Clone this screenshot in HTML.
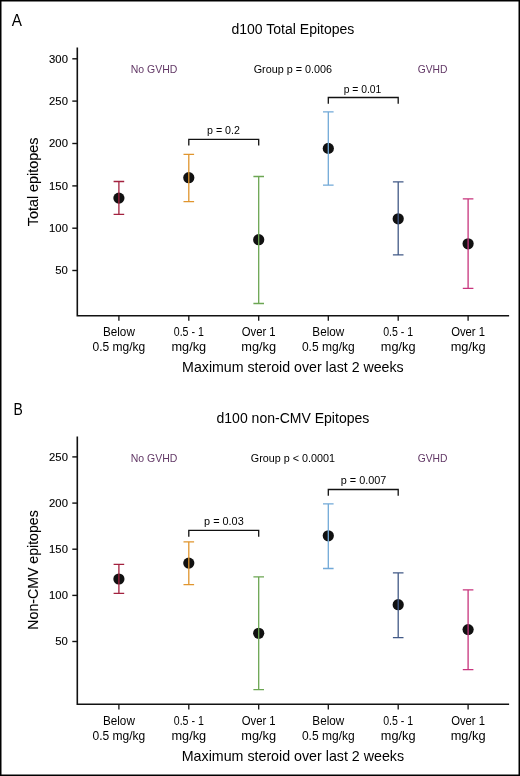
<!DOCTYPE html>
<html><head><meta charset="utf-8"><style>
html,body{margin:0;padding:0;background:#fff;}
body{width:520px;height:776px;overflow:hidden;}
svg{display:block;will-change:transform;font-family:"Liberation Sans", sans-serif;}
</style></head><body>
<svg width="520" height="776" viewBox="0 0 520 776">
<rect x="0" y="0" width="520" height="776" fill="#fff"/>
<text x="16.8" y="26.1" font-size="17" text-anchor="middle" fill="#000" stroke="#000" stroke-width="0" textLength="10.2" lengthAdjust="spacingAndGlyphs" >A</text>
<text x="292.9" y="33.8" font-size="14" text-anchor="middle" fill="#000" stroke="#000" stroke-width="0.0" textLength="123" lengthAdjust="spacingAndGlyphs" >d100 Total Epitopes</text>
<text x="154" y="72.9" font-size="11.3" text-anchor="middle" fill="#623866" stroke="#623866" stroke-width="0.0" textLength="46.6" lengthAdjust="spacingAndGlyphs" >No GVHD</text>
<text x="292.9" y="72.9" font-size="11" text-anchor="middle" fill="#000" stroke="#000" stroke-width="0.0" textLength="78.5" lengthAdjust="spacingAndGlyphs" >Group p = 0.006</text>
<text x="432.6" y="72.9" font-size="11.3" text-anchor="middle" fill="#623866" stroke="#623866" stroke-width="0.0" textLength="29.8" lengthAdjust="spacingAndGlyphs" >GVHD</text>
<text x="0" y="0" font-size="15.3" text-anchor="middle" fill="#000" stroke="#000" stroke-width="0.1" textLength="88.6" lengthAdjust="spacingAndGlyphs" transform="translate(37.9 181.9) rotate(-90)">Total epitopes</text>
<path d="M77.3 47.5 V315.8 H509.1" fill="none" stroke="#111" stroke-width="1.6"/>
<path d="M72.3 58.8 H77.3" stroke="#111" stroke-width="1.4"/>
<text x="67.9" y="62.5" font-size="11.6" text-anchor="end" fill="#000" stroke="#000" stroke-width="0.12" textLength="18.8" lengthAdjust="spacingAndGlyphs" >300</text>
<path d="M72.3 101.1 H77.3" stroke="#111" stroke-width="1.4"/>
<text x="67.9" y="104.8" font-size="11.6" text-anchor="end" fill="#000" stroke="#000" stroke-width="0.12" textLength="18.8" lengthAdjust="spacingAndGlyphs" >250</text>
<path d="M72.3 143.5 H77.3" stroke="#111" stroke-width="1.4"/>
<text x="67.9" y="147.2" font-size="11.6" text-anchor="end" fill="#000" stroke="#000" stroke-width="0.12" textLength="18.8" lengthAdjust="spacingAndGlyphs" >200</text>
<path d="M72.3 185.9 H77.3" stroke="#111" stroke-width="1.4"/>
<text x="67.9" y="189.6" font-size="11.6" text-anchor="end" fill="#000" stroke="#000" stroke-width="0.12" textLength="18.8" lengthAdjust="spacingAndGlyphs" >150</text>
<path d="M72.3 228.2 H77.3" stroke="#111" stroke-width="1.4"/>
<text x="67.9" y="231.9" font-size="11.6" text-anchor="end" fill="#000" stroke="#000" stroke-width="0.12" textLength="18.8" lengthAdjust="spacingAndGlyphs" >100</text>
<path d="M72.3 270.5 H77.3" stroke="#111" stroke-width="1.4"/>
<text x="67.9" y="274.2" font-size="11.6" text-anchor="end" fill="#000" stroke="#000" stroke-width="0.12" textLength="12.6" lengthAdjust="spacingAndGlyphs" >50</text>
<path d="M118.9 315.5 V320.7" stroke="#111" stroke-width="1.3"/>
<path d="M188.8 315.5 V320.7" stroke="#111" stroke-width="1.3"/>
<path d="M258.7 315.5 V320.7" stroke="#111" stroke-width="1.3"/>
<path d="M328.3 315.5 V320.7" stroke="#111" stroke-width="1.3"/>
<path d="M398.2 315.5 V320.7" stroke="#111" stroke-width="1.3"/>
<path d="M468.1 315.5 V320.7" stroke="#111" stroke-width="1.3"/>
<text x="118.9" y="335.7" font-size="12" text-anchor="middle" fill="#000" stroke="#000" stroke-width="0.0" textLength="31.9" lengthAdjust="spacingAndGlyphs" >Below</text>
<text x="118.9" y="350.7" font-size="12" text-anchor="middle" fill="#000" stroke="#000" stroke-width="0.0" textLength="52.8" lengthAdjust="spacingAndGlyphs" >0.5 mg/kg</text>
<text x="188.8" y="335.7" font-size="12" text-anchor="middle" fill="#000" stroke="#000" stroke-width="0.0" textLength="30.0" lengthAdjust="spacingAndGlyphs" >0.5 - 1</text>
<text x="188.8" y="350.7" font-size="12" text-anchor="middle" fill="#000" stroke="#000" stroke-width="0.0" textLength="34.7" lengthAdjust="spacingAndGlyphs" >mg/kg</text>
<text x="258.7" y="335.7" font-size="12" text-anchor="middle" fill="#000" stroke="#000" stroke-width="0.0" textLength="33.9" lengthAdjust="spacingAndGlyphs" >Over 1</text>
<text x="258.7" y="350.7" font-size="12" text-anchor="middle" fill="#000" stroke="#000" stroke-width="0.0" textLength="34.9" lengthAdjust="spacingAndGlyphs" >mg/kg</text>
<text x="328.3" y="335.7" font-size="12" text-anchor="middle" fill="#000" stroke="#000" stroke-width="0.0" textLength="31.9" lengthAdjust="spacingAndGlyphs" >Below</text>
<text x="328.3" y="350.7" font-size="12" text-anchor="middle" fill="#000" stroke="#000" stroke-width="0.0" textLength="52.8" lengthAdjust="spacingAndGlyphs" >0.5 mg/kg</text>
<text x="398.2" y="335.7" font-size="12" text-anchor="middle" fill="#000" stroke="#000" stroke-width="0.0" textLength="30.0" lengthAdjust="spacingAndGlyphs" >0.5 - 1</text>
<text x="398.2" y="350.7" font-size="12" text-anchor="middle" fill="#000" stroke="#000" stroke-width="0.0" textLength="34.7" lengthAdjust="spacingAndGlyphs" >mg/kg</text>
<text x="468.1" y="335.7" font-size="12" text-anchor="middle" fill="#000" stroke="#000" stroke-width="0.0" textLength="33.9" lengthAdjust="spacingAndGlyphs" >Over 1</text>
<text x="468.1" y="350.7" font-size="12" text-anchor="middle" fill="#000" stroke="#000" stroke-width="0.0" textLength="34.9" lengthAdjust="spacingAndGlyphs" >mg/kg</text>
<text x="292.9" y="371.7" font-size="14.5" text-anchor="middle" fill="#000" stroke="#000" stroke-width="0.0" textLength="221.6" lengthAdjust="spacingAndGlyphs" >Maximum steroid over last 2 weeks</text>
<circle cx="118.9" cy="198.1" r="5.6" fill="#111"/>
<path d="M118.9 181.5 V214.4 M113.60000000000001 181.5 H124.2 M113.60000000000001 214.4 H124.2" stroke="#a3223f" stroke-width="1.3" fill="none"/>
<circle cx="188.8" cy="177.7" r="5.6" fill="#111"/>
<path d="M188.8 154.3 V201.7 M183.5 154.3 H194.10000000000002 M183.5 201.7 H194.10000000000002" stroke="#e0952e" stroke-width="1.3" fill="none"/>
<circle cx="258.7" cy="239.7" r="5.6" fill="#111"/>
<path d="M258.7 176.5 V303.5 M253.39999999999998 176.5 H264.0 M253.39999999999998 303.5 H264.0" stroke="#6ca653" stroke-width="1.3" fill="none"/>
<circle cx="328.3" cy="148.4" r="5.6" fill="#111"/>
<path d="M328.3 111.9 V185.2 M323.0 111.9 H333.6 M323.0 185.2 H333.6" stroke="#72a9d8" stroke-width="1.3" fill="none"/>
<circle cx="398.2" cy="218.8" r="5.6" fill="#111"/>
<path d="M398.2 181.9 V254.8 M392.9 181.9 H403.5 M392.9 254.8 H403.5" stroke="#425a87" stroke-width="1.3" fill="none"/>
<circle cx="468.1" cy="243.8" r="5.6" fill="#111"/>
<path d="M468.1 198.9 V288.4 M462.8 198.9 H473.40000000000003 M462.8 288.4 H473.40000000000003" stroke="#c8357d" stroke-width="1.3" fill="none"/>
<path d="M188.8 145.4 V139.3 H258.7 V145.4" stroke="#111" stroke-width="1.3" fill="none"/>
<text x="223.5" y="134.2" font-size="11.5" text-anchor="middle" fill="#000" stroke="#000" stroke-width="0.0" textLength="32.9" lengthAdjust="spacingAndGlyphs" >p = 0.2</text>
<path d="M328.3 103.7 V97.5 H398.2 V103.7" stroke="#111" stroke-width="1.3" fill="none"/>
<text x="362.5" y="92.5" font-size="11.5" text-anchor="middle" fill="#000" stroke="#000" stroke-width="0.0" textLength="37.7" lengthAdjust="spacingAndGlyphs" >p = 0.01</text>
<text x="18.25" y="415.2" font-size="17" text-anchor="middle" fill="#000" stroke="#000" stroke-width="0" textLength="9.3" lengthAdjust="spacingAndGlyphs" >B</text>
<text x="292.9" y="422.6" font-size="14" text-anchor="middle" fill="#000" stroke="#000" stroke-width="0.0" textLength="152.8" lengthAdjust="spacingAndGlyphs" >d100 non-CMV Epitopes</text>
<text x="154" y="461.6" font-size="11.3" text-anchor="middle" fill="#623866" stroke="#623866" stroke-width="0.0" textLength="46.6" lengthAdjust="spacingAndGlyphs" >No GVHD</text>
<text x="292.9" y="461.6" font-size="11" text-anchor="middle" fill="#000" stroke="#000" stroke-width="0.0" textLength="84.2" lengthAdjust="spacingAndGlyphs" >Group p &lt; 0.0001</text>
<text x="432.6" y="461.6" font-size="11.3" text-anchor="middle" fill="#623866" stroke="#623866" stroke-width="0.0" textLength="29.8" lengthAdjust="spacingAndGlyphs" >GVHD</text>
<text x="0" y="0" font-size="15.3" text-anchor="middle" fill="#000" stroke="#000" stroke-width="0.1" textLength="119.4" lengthAdjust="spacingAndGlyphs" transform="translate(37.9 570.0) rotate(-90)">Non-CMV epitopes</text>
<path d="M77.3 436.6 V704.3 H509.1" fill="none" stroke="#111" stroke-width="1.6"/>
<path d="M72.3 456.9 H77.3" stroke="#111" stroke-width="1.4"/>
<text x="67.9" y="460.6" font-size="11.6" text-anchor="end" fill="#000" stroke="#000" stroke-width="0.12" textLength="18.8" lengthAdjust="spacingAndGlyphs" >250</text>
<path d="M72.3 503.1 H77.3" stroke="#111" stroke-width="1.4"/>
<text x="67.9" y="506.8" font-size="11.6" text-anchor="end" fill="#000" stroke="#000" stroke-width="0.12" textLength="18.8" lengthAdjust="spacingAndGlyphs" >200</text>
<path d="M72.3 549.2 H77.3" stroke="#111" stroke-width="1.4"/>
<text x="67.9" y="552.9" font-size="11.6" text-anchor="end" fill="#000" stroke="#000" stroke-width="0.12" textLength="18.8" lengthAdjust="spacingAndGlyphs" >150</text>
<path d="M72.3 595.4 H77.3" stroke="#111" stroke-width="1.4"/>
<text x="67.9" y="599.1" font-size="11.6" text-anchor="end" fill="#000" stroke="#000" stroke-width="0.12" textLength="18.8" lengthAdjust="spacingAndGlyphs" >100</text>
<path d="M72.3 641.5 H77.3" stroke="#111" stroke-width="1.4"/>
<text x="67.9" y="645.2" font-size="11.6" text-anchor="end" fill="#000" stroke="#000" stroke-width="0.12" textLength="12.6" lengthAdjust="spacingAndGlyphs" >50</text>
<path d="M118.9 704.3 V709.5" stroke="#111" stroke-width="1.3"/>
<path d="M188.8 704.3 V709.5" stroke="#111" stroke-width="1.3"/>
<path d="M258.7 704.3 V709.5" stroke="#111" stroke-width="1.3"/>
<path d="M328.3 704.3 V709.5" stroke="#111" stroke-width="1.3"/>
<path d="M398.2 704.3 V709.5" stroke="#111" stroke-width="1.3"/>
<path d="M468.1 704.3 V709.5" stroke="#111" stroke-width="1.3"/>
<text x="118.9" y="724.5" font-size="12" text-anchor="middle" fill="#000" stroke="#000" stroke-width="0.0" textLength="31.9" lengthAdjust="spacingAndGlyphs" >Below</text>
<text x="118.9" y="739.5" font-size="12" text-anchor="middle" fill="#000" stroke="#000" stroke-width="0.0" textLength="52.8" lengthAdjust="spacingAndGlyphs" >0.5 mg/kg</text>
<text x="188.8" y="724.5" font-size="12" text-anchor="middle" fill="#000" stroke="#000" stroke-width="0.0" textLength="30.0" lengthAdjust="spacingAndGlyphs" >0.5 - 1</text>
<text x="188.8" y="739.5" font-size="12" text-anchor="middle" fill="#000" stroke="#000" stroke-width="0.0" textLength="34.7" lengthAdjust="spacingAndGlyphs" >mg/kg</text>
<text x="258.7" y="724.5" font-size="12" text-anchor="middle" fill="#000" stroke="#000" stroke-width="0.0" textLength="33.9" lengthAdjust="spacingAndGlyphs" >Over 1</text>
<text x="258.7" y="739.5" font-size="12" text-anchor="middle" fill="#000" stroke="#000" stroke-width="0.0" textLength="34.9" lengthAdjust="spacingAndGlyphs" >mg/kg</text>
<text x="328.3" y="724.5" font-size="12" text-anchor="middle" fill="#000" stroke="#000" stroke-width="0.0" textLength="31.9" lengthAdjust="spacingAndGlyphs" >Below</text>
<text x="328.3" y="739.5" font-size="12" text-anchor="middle" fill="#000" stroke="#000" stroke-width="0.0" textLength="52.8" lengthAdjust="spacingAndGlyphs" >0.5 mg/kg</text>
<text x="398.2" y="724.5" font-size="12" text-anchor="middle" fill="#000" stroke="#000" stroke-width="0.0" textLength="30.0" lengthAdjust="spacingAndGlyphs" >0.5 - 1</text>
<text x="398.2" y="739.5" font-size="12" text-anchor="middle" fill="#000" stroke="#000" stroke-width="0.0" textLength="34.7" lengthAdjust="spacingAndGlyphs" >mg/kg</text>
<text x="468.1" y="724.5" font-size="12" text-anchor="middle" fill="#000" stroke="#000" stroke-width="0.0" textLength="33.9" lengthAdjust="spacingAndGlyphs" >Over 1</text>
<text x="468.1" y="739.5" font-size="12" text-anchor="middle" fill="#000" stroke="#000" stroke-width="0.0" textLength="34.9" lengthAdjust="spacingAndGlyphs" >mg/kg</text>
<text x="292.9" y="760.8" font-size="14.5" text-anchor="middle" fill="#000" stroke="#000" stroke-width="0.0" textLength="222.3" lengthAdjust="spacingAndGlyphs" >Maximum steroid over last 2 weeks</text>
<circle cx="118.9" cy="579.0" r="5.6" fill="#111"/>
<path d="M118.9 564.4 V593.3 M113.60000000000001 564.4 H124.2 M113.60000000000001 593.3 H124.2" stroke="#a3223f" stroke-width="1.3" fill="none"/>
<circle cx="188.8" cy="563.1" r="5.6" fill="#111"/>
<path d="M188.8 541.9 V584.7 M183.5 541.9 H194.10000000000002 M183.5 584.7 H194.10000000000002" stroke="#e0952e" stroke-width="1.3" fill="none"/>
<circle cx="258.7" cy="633.3" r="5.6" fill="#111"/>
<path d="M258.7 576.9 V689.6 M253.39999999999998 576.9 H264.0 M253.39999999999998 689.6 H264.0" stroke="#6ca653" stroke-width="1.3" fill="none"/>
<circle cx="328.3" cy="535.8" r="5.6" fill="#111"/>
<path d="M328.3 503.9 V568.5 M323.0 503.9 H333.6 M323.0 568.5 H333.6" stroke="#72a9d8" stroke-width="1.3" fill="none"/>
<circle cx="398.2" cy="604.7" r="5.6" fill="#111"/>
<path d="M398.2 572.9 V637.6 M392.9 572.9 H403.5 M392.9 637.6 H403.5" stroke="#425a87" stroke-width="1.3" fill="none"/>
<circle cx="468.1" cy="629.6" r="5.6" fill="#111"/>
<path d="M468.1 589.9 V669.6 M462.8 589.9 H473.40000000000003 M462.8 669.6 H473.40000000000003" stroke="#c8357d" stroke-width="1.3" fill="none"/>
<path d="M188.8 536.8 V530.4 H258.7 V536.8" stroke="#111" stroke-width="1.3" fill="none"/>
<text x="223.9" y="524.8" font-size="11.5" text-anchor="middle" fill="#000" stroke="#000" stroke-width="0.0" textLength="39.7" lengthAdjust="spacingAndGlyphs" >p = 0.03</text>
<path d="M328.3 495.7 V489.5 H398.2 V495.7" stroke="#111" stroke-width="1.3" fill="none"/>
<text x="363.6" y="483.8" font-size="11.5" text-anchor="middle" fill="#000" stroke="#000" stroke-width="0.0" textLength="45.6" lengthAdjust="spacingAndGlyphs" >p = 0.007</text>
<rect x="0.75" y="0.75" width="518.5" height="774.5" fill="none" stroke="#000" stroke-width="1.5"/>
</svg>
</body></html>
